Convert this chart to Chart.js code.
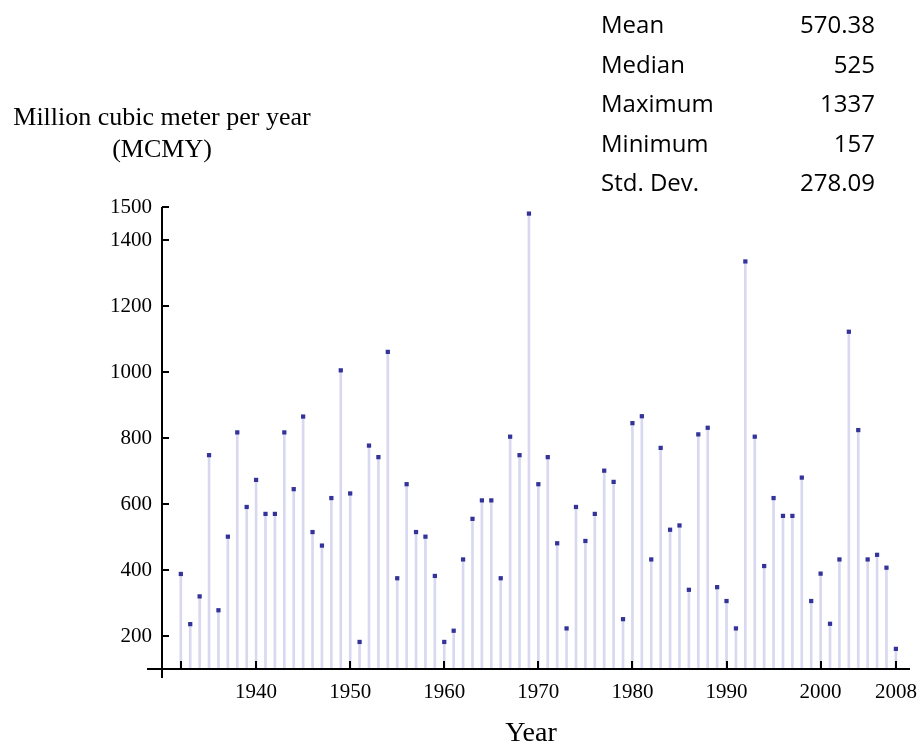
<!DOCTYPE html>
<html>
<head>
<meta charset="utf-8">
<script src="https://cdn.jsdelivr.net/npm/chart.js@4.4.1/dist/chart.umd.min.js"></script>
<style>
  body { margin: 0; background: #fff; }
  #wrap { position: relative; width: 922px; height: 747px; overflow: hidden; }
  #chart { position: absolute; left: 0; top: 0; }
  .serif { position: absolute; font-family: "Liberation Serif", "Times New Roman", serif; color: #000; white-space: nowrap; }
  #ytitle { left: 2px; width: 320px; top: 101px; font-size: 26px; line-height: 32px; text-align: center; }
  #xtitle { left: 481px; width: 100px; top: 717px; font-size: 28px; line-height: 30px; text-align: center; }
  #stats { position: absolute; left: 601px; top: 4px; width: 274px; font-family: "Open Sans", sans-serif; font-size: 24px; line-height: 39.5px; color: #000; }
  #stats div { display: flex; justify-content: space-between; }
</style>
</head>
<body>
<div id="wrap">
  <canvas id="chart" width="922" height="747"></canvas>
  <div id="ytitle" class="serif">Million cubic meter per year<br>(MCMY)</div>
  <div id="xtitle" class="serif">Year</div>
  <div id="stats"></div>
</div>
<script>
// yearly flow
const years = [1932, 1933, 1934, 1935, 1936, 1937, 1938, 1939, 1940, 1941, 1942, 1943, 1944, 1945, 1946, 1947, 1948, 1949,
  1950, 1951, 1952, 1953, 1954, 1955, 1956, 1957, 1958, 1959, 1960, 1961, 1962, 1963, 1964, 1965, 1966, 1967, 1968, 1969,
  1970, 1971, 1972, 1973, 1974, 1975, 1976, 1977, 1978, 1979, 1980, 1981, 1982, 1983, 1984, 1985, 1986, 1987, 1988, 1989,
  1990, 1991, 1992, 1993, 1994, 1995, 1996, 1997, 1998, 1999, 2000, 2001, 2002, 2003, 2004, 2005, 2006, 2007, 2008];
const flow = [388, 236, 320, 748, 278, 501, 817, 591, 673, 570, 570, 817, 645, 865, 515, 474, 618, 1005,
  632, 182, 777, 742, 1061, 375, 660, 515, 501, 382, 182, 216, 432, 555, 611, 611, 375, 804, 748, 1480,
  660, 742, 481, 223, 591, 488, 570, 701, 667, 251, 845, 866, 432, 770, 522, 535, 340, 811, 831, 348,
  306, 223, 1335, 804, 412, 618, 564, 564, 680, 306, 389, 237, 432, 1122, 824, 432, 446, 407, 161];

const xTicks = [1932, 1940, 1950, 1960, 1970, 1980, 1990, 2000, 2008];
const xTickLabels = ['', '1940', '1950', '1960', '1970', '1980', '1990', '2000', '2008'];
const yTicks = [200, 400, 600, 800, 1000, 1200, 1400, 1500];

const statLabels = ['Mean', 'Median', 'Maximum', 'Minimum', 'Std. Dev.'];
const statValues = ['570.38', '525', '1337', '157', '278.09'];

// stats box
const statsBox = document.getElementById('stats');
statLabels.forEach((l, i) => {
  const row = document.createElement('div');
  row.innerHTML = `<span>${l}</span><span>${statValues[i]}</span>`;
  statsBox.appendChild(row);
});

// axis lines + inward ticks, like the original plot
const axesPlugin = {
  id: 'axes',
  afterDraw(chart) {
    const { ctx, chartArea: a, scales: { x, y } } = chart;
    ctx.save();
    ctx.strokeStyle = '#000';
    ctx.lineWidth = 2;
    ctx.beginPath();
    ctx.moveTo(a.left - 15, a.bottom);
    ctx.lineTo(a.right, a.bottom);
    ctx.moveTo(a.left, a.top);
    ctx.lineTo(a.left, a.bottom + 9);
    xTicks.forEach(v => {
      const px = Math.round(x.getPixelForValue(v));
      ctx.moveTo(px, a.bottom);
      ctx.lineTo(px, a.bottom - 8);
    });
    yTicks.forEach(v => {
      const py = Math.round(y.getPixelForValue(v));
      ctx.moveTo(a.left, py);
      ctx.lineTo(a.left + 7, py);
    });
    ctx.stroke();
    ctx.restore();
  }
};

const tickFont = { family: '"Liberation Serif", serif', size: 21 };

new Chart(document.getElementById('chart'), {
  type: 'bar',
  data: {
    datasets: [
      {
        type: 'scatter',
        data: years.map((yr, i) => ({ x: yr, y: flow[i] })),
        pointStyle: 'rect',
        pointRadius: 3,
        borderWidth: 0,
        backgroundColor: '#33339a',
        order: 0
      },
      {
        type: 'bar',
        data: years.map((yr, i) => ({ x: yr, y: flow[i] })),
        backgroundColor: '#d8d8f0',
        barThickness: 2,
        order: 1
      }
    ]
  },
  options: {
    responsive: false,
    animation: false,
    events: [],
    layout: { padding: { top: 207, right: 12, left: 0, bottom: 0 } },
    plugins: { legend: { display: false }, tooltip: { enabled: false } },
    scales: {
      x: {
        type: 'linear',
        min: 1930,
        max: 2009.5,
        offset: false,
        grid: { display: false, drawTicks: false },
        border: { display: false },
        afterBuildTicks: s => { s.ticks = xTicks.map(v => ({ value: v })); },
        afterFit: s => { s.height = 78; s.paddingLeft = 0; s.paddingRight = 0; },
        ticks: {
          padding: 11,
          maxRotation: 0,
          autoSkip: false,
          color: '#000',
          font: tickFont,
          callback: v => xTickLabels[xTicks.indexOf(v)]
        }
      },
      y: {
        min: 100,
        max: 1500,
        grid: { display: false, drawTicks: false },
        border: { display: false },
        afterBuildTicks: s => { s.ticks = yTicks.map(v => ({ value: v })); },
        afterFit: s => { s.width = 162; s.paddingTop = 0; s.paddingBottom = 0; },
        ticks: { padding: 10, color: '#000', font: tickFont, callback: v => String(v) }
      }
    }
  },
  plugins: [axesPlugin]
});
</script>
</body>
</html>
